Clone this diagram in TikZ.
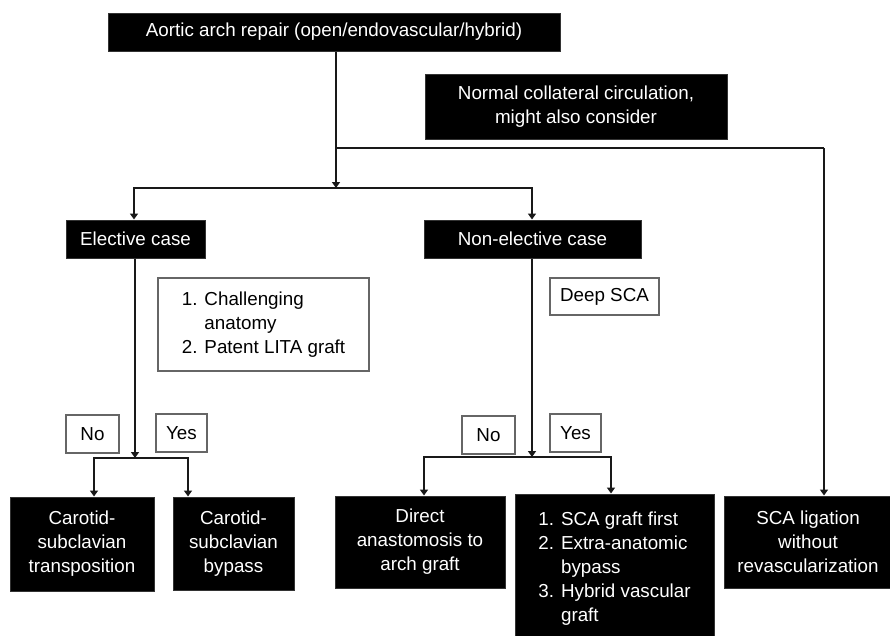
\documentclass[tikz,border=0pt]{standalone}
\usepackage{fontspec}
\setmainfont{Liberation Sans}
\usetikzlibrary{arrows.meta}
\begin{document}
\begin{tikzpicture}[x=1pt,y=-1pt,
  txt/.style={font=\fontsize{18.8}{24}\selectfont},
  blk/.style={txt, fill=black, draw=black!80, line width=1pt, text=white, align=center, inner sep=0pt},
  wht/.style={txt, fill=white, draw=black!60, line width=1.3pt, inner sep=0pt},
  conn/.style={line width=1.8pt, draw=black!90},
  arr/.style={conn, -{Triangle[width=8pt,length=6pt]}},
  darr/.style={conn, {Triangle[width=8pt,length=6pt]}-{Triangle[width=8pt,length=6pt]}}]
\useasboundingbox (0,0) rectangle (890,635);
\fill[white] (0,0) rectangle (890,635);

\node[blk, minimum width=452, minimum height=38] (top) at (334,32) {Aortic arch repair (open/endovascular/hybrid)};
\node[blk, minimum width=302, minimum height=65] (norm) at (576,106.5) {Normal collateral circulation,\\might also consider};
\node[blk, minimum width=139, minimum height=38] (elec) at (135.5,239) {Elective case};
\node[blk, minimum width=217, minimum height=38] (nonel) at (532.5,239) {Non-elective case};

\node[wht, minimum width=211, minimum height=93] (chal) at (263.5,324.5)
  {\begin{tabular}{@{}r@{\hspace{7pt}}l@{}}1. & Challenging\\ & anatomy\\ 2. & Patent LITA graft\end{tabular}};
\node[wht, minimum width=109, minimum height=37] (deep) at (604.5,296.5) {Deep SCA};

\node[wht, minimum width=53, minimum height=38] (no1) at (92.5,434) {No};
\node[wht, minimum width=51, minimum height=38] (yes1) at (181.5,433) {Yes};
\node[wht, minimum width=53, minimum height=38] (no2) at (488.5,435) {No};
\node[wht, minimum width=51, minimum height=38] (yes2) at (575.5,433) {Yes};

\node[blk, minimum width=144, minimum height=94] (trans) at (82,544) {Carotid-\\subclavian\\transposition};
\node[blk, minimum width=121, minimum height=93] (byp) at (233.5,543.5) {Carotid-\\subclavian\\bypass};
\node[blk, minimum width=170, minimum height=92] (dir) at (420,542) {Direct\\anastomosis to\\arch graft};
\node[blk, minimum width=199, minimum height=150] (graft) at (614.5,569)
  {\begin{tabular}{@{}r@{\hspace{7pt}}l@{}}1. & SCA graft first\\ 2. & Extra-anatomic\\ & bypass\\ 3. & Hybrid vascular\\ & graft\end{tabular}};
\node[blk, minimum width=168, minimum height=92] (lig) at (808,542) {SCA ligation\\without\\revascularization};

\coordinate (j0) at (336,148);
\coordinate (j1) at (336,188);
\coordinate (j2) at (824,148);
\coordinate (e1) at (135,458);
\coordinate (e1l) at (94,458);
\coordinate (e1r) at (188,458);
\coordinate (n1) at (532,457);
\coordinate (n1l) at (424,457);
\coordinate (n1r) at (611,457);

\draw[arr] (j1 |- top.south) -- (j1);
\draw[conn] (j0) -- (j2);
\draw[arr] (j2) -- (j2 |- lig.north);
\draw[darr] (elec.north -| 134,0) -- (134,188) -- (532,188) -- (nonel.north -| 532,0);

\draw[arr] (e1 |- elec.south) -- (e1);
\draw[darr] (e1l |- trans.north) -- (e1l) -- (e1r) -- (e1r |- byp.north);
\draw[arr] (n1 |- nonel.south) -- (n1);
\draw[darr] (n1l |- dir.north) -- (n1l) -- (n1r) -- (n1r |- graft.north);
\end{tikzpicture}
\end{document}
